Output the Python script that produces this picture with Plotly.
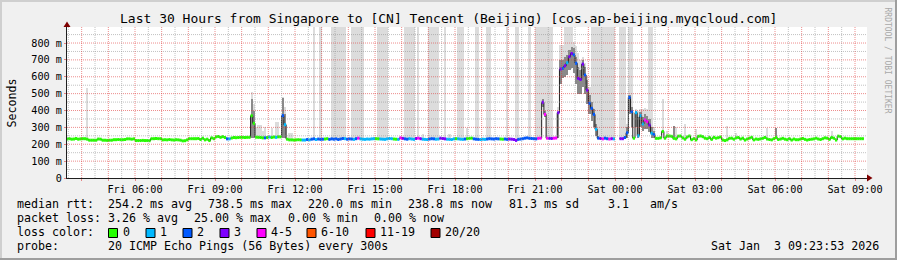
import plotly.graph_objects as go
from datetime import datetime, timedelta

# ---------------------------------------------------------------- data
START = datetime(2026, 1, 2, 3, 0)          # first 5-minute interval (partly clipped)
STEP = timedelta(minutes=5)
X_RANGE = ("2026-01-02 03:27", "2026-01-03 09:27")
Y_MAX = 895

# median RTT (ms) per 5-minute interval, one row per hour (Fri 03:00 ... Sat 09:15)
MEDIAN_MS = [
    230, 230, 230, 230, 230, 231, 233, 230, 231, 234, 230, 232,   # Fri 03
    233, 233, 230, 224, 224, 224, 224, 231, 230, 224, 224, 223,   # Fri 04
    224, 224, 227, 227, 228, 227, 227, 228, 232, 232, 230, 232,   # Fri 05
    222, 222, 222, 223, 222, 222, 221, 233, 233, 234, 233, 233,   # Fri 06
    226, 227, 226, 228, 226, 225, 227, 226, 224, 220, 221, 226,   # Fri 07
    233, 233, 233, 233, 234, 228, 236, 226, 230, 222, 238, 233,   # Fri 08
    244, 246, 241, 245, 240, 232, 232, 237, 240, 239, 240, 241,   # Fri 09
    241, 240, 241, 241, 369, 324, 242, 241, 240, 238, 238, 240,   # Fri 10
    243, 240, 243, 241, 244, 244, 370, 316, 230, 226, 226, 225,   # Fri 11
    226, 227, 226, 225, 225, 228, 226, 230, 232, 228, 231, 229,   # Fri 12
    230, 231, 233, 229, 232, 230, 232, 228, 231, 234, 233, 230,   # Fri 13
    232, 231, 229, 233, 236, 232, 230, 229, 231, 230, 232, 233,   # Fri 14
    233, 232, 231, 230, 229, 232, 234, 233, 231, 230, 229, 238,   # Fri 15
    235, 232, 230, 233, 231, 229, 234, 236, 233, 230, 229, 228,   # Fri 16
    231, 233, 232, 230, 231, 236, 234, 232, 230, 229, 228, 232,   # Fri 17
    233, 232, 230, 229, 231, 233, 235, 236, 232, 230, 229, 228,   # Fri 18
    230, 229, 231, 233, 232, 231, 233, 232, 231, 230, 231, 229,   # Fri 19
    231, 230, 228, 223, 229, 231, 233, 236, 238, 235, 234, 233,   # Fri 20
    232, 235, 236, 449, 377, 236, 235, 234, 236, 237, 387, 646,   # Fri 21
    650, 665, 683, 719, 738, 730, 680, 590, 584, 675, 610, 521,   # Fri 22
    443, 413, 377, 289, 236, 234, 232, 236, 233, 231, 233, 232,   # Fri 23
    None, None, 233, 233, 240, 268, 477, 393, 236, 387, 250, 369, # Sat 00
    320, 344, 334, 314, 265, 258, 235, 235, 238, 276, 236, 249,   # Sat 01
    249, 247, 235, 232, 248, 249, 238, 230, 243, 249, 227, 233,   # Sat 02
    226, 247, 249, 245, 236, 233, 240, 229, 241, 236, 239, 243,   # Sat 03
    225, 222, 226, 235, 236, 230, 238, 240, 231, 236, 225, 231,   # Sat 04
    236, 241, 226, 231, 229, 232, 235, 240, 231, 228, 226, 233,   # Sat 05
    240, 228, 231, 235, 230, 227, 233, 225, 231, 227, 227, 231,   # Sat 06
    234, 229, 225, 228, 230, 232, 236, 231, 228, 233, 238, 236,   # Sat 07
    229, 240, 236, 225, 248, 245, 232, 236, 233, 233, 233, 233,   # Sat 08
    233, 233, 233, 233,                                           # Sat 09
]

# lost pings (out of 20) per interval, same layout
LOSS = [
    0, 0, 0, 0, 0, 0, 0, 0, 0, 0, 0, 0,   # Fri 03
    0, 0, 0, 0, 0, 0, 0, 0, 0, 0, 0, 0,   # Fri 04
    0, 0, 0, 0, 0, 0, 0, 0, 0, 0, 0, 0,   # Fri 05
    0, 0, 0, 0, 0, 0, 0, 0, 0, 0, 0, 0,   # Fri 06
    0, 0, 0, 0, 0, 0, 0, 0, 0, 0, 0, 0,   # Fri 07
    0, 0, 0, 0, 0, 0, 0, 0, 0, 0, 0, 0,   # Fri 08
    0, 0, 0, 0, 0, 2, 1, 0, 0, 0, 0, 0,   # Fri 09
    0, 0, 0, 0, 0, 0, 0, 0, 0, 0, 2, 0,   # Fri 10
    1, 0, 0, 1, 0, 0, 2, 1, 0, 0, 0, 0,   # Fri 11
    0, 0, 0, 1, 1, 2, 1, 2, 2, 1, 2, 2,   # Fri 12
    2, 0, 0, 2, 2, 2, 2, 2, 2, 2, 1, 2,   # Fri 13
    2, 2, 1, 2, 4, 1, 1, 1, 1, 1, 1, 1,   # Fri 14
    0, 0, 1, 1, 1, 1, 1, 1, 0, 0, 1, 4,   # Fri 15
    3, 2, 2, 1, 1, 1, 3, 4, 3, 1, 1, 1,   # Fri 16
    2, 2, 2, 1, 1, 3, 3, 3, 1, 1, 1, 1,   # Fri 17
    0, 1, 1, 1, 2, 0, 0, 0, 2, 2, 2, 1,   # Fri 18
    1, 1, 2, 2, 2, 2, 2, 2, 0, 0, 2, 2,   # Fri 19
    3, 3, 3, 3, 2, 2, 2, 2, 2, 2, 2, 2,   # Fri 20
    2, 4, 4, 3, 4, 4, 3, 3, 4, 4, 3, 3,   # Fri 21
    2, 3, 1, 3, 3, 2, 2, 3, 3, 3, 2, 3,   # Fri 22
    2, 2, 2, 1, 2, 3, 4, 2, 2, 4, 3, 1,   # Fri 23
    None, None, 3, 3, 2, 2, 2, 2, 0, 1, 1, 1,   # Sat 00
    1, 4, 4, 3, 1, 2, 0, 0, 0, 0, 0, 0,   # Sat 01
    0, 0, 0, 0, 0, 0, 0, 0, 0, 0, 0, 0,   # Sat 02
    0, 0, 0, 0, 0, 0, 0, 0, 0, 0, 0, 0,   # Sat 03
    0, 0, 0, 0, 0, 0, 0, 0, 0, 0, 0, 0,   # Sat 04
    0, 0, 0, 0, 0, 0, 0, 0, 0, 0, 0, 0,   # Sat 05
    0, 0, 0, 0, 0, 0, 0, 0, 0, 0, 0, 0,   # Sat 06
    0, 0, 0, 0, 0, 0, 0, 0, 0, 0, 0, 0,   # Sat 07
    0, 0, 0, 0, 0, 0, 0, 0, 0, 0, 0, 0,   # Sat 08
    0, 0, 0, 0,                           # Sat 09
]

# smoke (ping spread) for selected intervals: index, dark-band low/high, light top (ms)
SMOKE_N = [14, 88, 89, 90, 91, 92, 93, 94, 97, 99, 100, 102, 103, 105, 106,
           116, 119, 124, 125, 126, 127, 128, 129, 130, 133, 134, 135, 136, 137, 138,
           145, 146, 147, 148, 149, 157, 158, 159, 160, 161, 163, 165,
           168, 169, 170, 171, 172, 175, 177, 181, 182, 183, 185, 189, 190, 194, 195,
           203, 207, 208, 213, 216, 217, 218, 219, 220, 221, 222, 223, 226,
           227, 228, 229, 230, 231, 232, 233, 234, 235, 236, 237, 238, 239, 240,
           241, 242, 243, 244, 245, 246, 247, 248, 249, 250, 251, 254, 255, 256,
           257, 258, 259, 261, 262, 263, 264, 265, 266, 267, 268, 269, 273, 275,
           278, 279, 283, 288, 302, 306, 320, 324, 349]
SMOKE_LO = [None, 240, 240, None, None, None, None, None, None, None, None, 235, 235, None, None,
            None, None, None, None, None, None, None, None, None, None, None, None, None, None, None,
            None, None, None, None, None, None, None, None, None, None, None, None,
            None, None, None, None, None, None, None, None, None, None, None, None, None, None, None,
            None, None, None, None, None, None, None, 420, 360, None, None, None, 240,
            560, 590, 600, 610, 640, 650, 620, 560, 500, 500, 540, 500, 440, 380,
            340, 300, 250, 232, None, None, None, None, None, None, None, None, None, None,
            240, 380, 300, 300, 240, 300, 280, 290, 290, 270, 240, 235, None, None,
            235, None, None, None, None, None, None, 232, None]
SMOKE_HI = [None, 470, 400, None, None, None, None, None, None, None, None, 474, 380, None, None,
            None, None, None, None, None, None, None, None, None, None, None, None, None, None, None,
            None, None, None, None, None, None, None, None, None, None, None, None,
            None, None, None, None, None, None, None, None, None, None, None, None, None, None, None,
            None, None, None, None, None, None, None, 470, 400, None, None, None, 390,
            700, 700, 715, 730, 760, 775, 770, 720, 660, 640, 700, 660, 580, 490,
            450, 410, 320, 250, None, None, None, None, None, None, None, None, None, None,
            300, 490, 420, 400, 360, 390, 360, 380, 370, 350, 300, 280, None, None,
            308, None, None, None, None, None, None, 296, None]
SMOKE_TOP = [535, 510, 440, 300, 314, 314, 280, 304, 296, 334, 334, 482, 420, 265, 265,
             900, 900, 900, 900, 900, 900, 900, 900, 900, 900, 900, 900, 900, 900, 900,
             900, 900, 900, 900, 900, 900, 900, 900, 900, 900, 900, 262,
             900, 900, 900, 900, 900, 900, 258, 900, 900, 900, 294, 900, 900, 900, 900,
             900, 900, 900, 900, 900, 900, 900, 900, 900, 900, 900, 900, 420,
             790, 790, 900, 900, 900, 900, 808, 780, 740, 700, 720, 680, 600, 540,
             900, 900, 900, 900, 900, 900, 900, 900, 900, 900, 900, 900, 900, 900,
             320, 900, 900, 410, 400, 410, 410, 415, 410, 900, 900, 300, 466, 280,
             308, 304, 320, 288, 308, 268, 298, 296, 280]

LOSS_BINS = [(0, 0), (1, 1), (2, 2), (3, 3), (4, 5), (6, 10), (11, 19), (20, 20)]
LOSS_LABELS = ["0", "1", "2", "3", "4-5", "6-10", "11-19", "20/20"]
LOSS_COLORS = ["#26ff00", "#00b8ff", "#0059ff", "#7e00ff", "#ff00ff", "#ff5500", "#ff0000", "#a10000"]

Y_TICKS = [0, 100, 200, 300, 400, 500, 600, 700, 800]
Y_TICKTEXT = ["0", "100 m", "200 m", "300 m", "400 m", "500 m", "600 m", "700 m", "800 m"]

TITLE = "Last 30 Hours from Singapore to [CN] Tencent (Beijing) [cos.ap-beijing.myqcloud.com]"
STAT_LINES = [
    [(16, "median rtt:"), (107, "254.2 ms avg"), (207, "738.5 ms max"), (307, "220.0 ms min"),
     (407, "238.8 ms now"), (507.5, "81.3 ms sd"), (607, "3.1   am/s")],
    [(16, "packet loss:"), (107, "3.26 % avg"), (193, "25.00 % max"), (286.5, "0.00 % min"),
     (372.5, "0.00 % now")],
    [(16, "loss color:")],
    [(16, "probe:"), (107, "20 ICMP Echo Pings (56 Bytes) every 300s")],
]
STAMP = "Sat Jan  3 09:23:53 2026"

# ---------------------------------------------------------------- style / geometry
W, H = 897, 260
PL, PR, PT, PB = 67, 867, 27, 178
MONO = "DejaVu Sans Mono"
MGRID = "rgba(222,48,48,0.55)"
GRID = "rgba(143,143,143,0.55)"
LIGHT = "#dcdcdc"
DARK = "#8a8a8a"


def px(x):
    return (x - PL) / (PR - PL)


def py(y):
    return (PB - y) / (PB - PT)


def nb(s):
    return s.replace(" ", "\u00a0")


times = [START + STEP * i for i in range(len(MEDIAN_MS))]
half = STEP / 2
fig = go.Figure()

# light smoke
lx, ly, lb = [], [], []
for k, n in enumerate(SMOKE_N):
    base = SMOKE_LO[k] if SMOKE_LO[k] is not None else MEDIAN_MS[n]
    lx.append(times[n] + half)
    lb.append(base)
    ly.append(SMOKE_TOP[k] - base)
fig.add_trace(go.Bar(x=lx, y=ly, base=lb, width=STEP.total_seconds() * 1000,
                     marker=dict(color=LIGHT, line=dict(width=0)), hoverinfo="skip"))
# dark smoke
dx, dy, db = [], [], []
for k, n in enumerate(SMOKE_N):
    if SMOKE_HI[k] is not None:
        dx.append(times[n] + half)
        db.append(SMOKE_LO[k])
        dy.append(SMOKE_HI[k] - SMOKE_LO[k])
fig.add_trace(go.Bar(x=dx, y=dy, base=db, width=STEP.total_seconds() * 1000,
                     marker=dict(color=DARK, line=dict(width=0)), hoverinfo="skip"))

# median step line
fig.add_trace(go.Scatter(x=times + [times[-1] + STEP], y=MEDIAN_MS + [MEDIAN_MS[-1]],
                         mode="lines", line=dict(color="#202020", width=1, shape="hv"),
                         connectgaps=False, hoverinfo="skip"))

# loss-coloured median segments
for b, (lo, hi) in enumerate(LOSS_BINS):
    sx, sy = [], []
    for n, v in enumerate(MEDIAN_MS):
        l = LOSS[n]
        if v is None or l is None or not (lo <= l <= hi):
            continue
        sx += [times[n], times[n] + STEP, None]
        sy += [v, v, None]
    if sx:
        fig.add_trace(go.Scatter(x=sx, y=sy, mode="lines",
                                 line=dict(color=LOSS_COLORS[b], width=3),
                                 hoverinfo="skip"))

shapes = []
# grid drawn above the data (rrdtool style)
for v in range(50, 900, 50):
    shapes.append(dict(type="line", xref="paper", yref="y", x0=0, x1=1, y0=v, y1=v,
                       line=dict(color=MGRID if v % 100 == 0 else GRID, width=1, dash="1px,1px"),
                       layer="above"))
t = datetime(2026, 1, 2, 3, 30)
while t <= datetime(2026, 1, 3, 9, 0):
    shapes.append(dict(type="line", xref="x", yref="paper", x0=t, x1=t, y0=0, y1=1,
                       line=dict(color=MGRID if t.minute == 0 else GRID, width=1, dash="1px,1px"),
                       layer="above"))
    t += timedelta(minutes=30)

# arrows
shapes.append(dict(type="path", xref="paper", yref="paper", layer="above",
                   path=f"M {px(867)} {py(174.5)} L {px(872.5)} {py(178)} L {px(867)} {py(181.5)} Z",
                   fillcolor="#7f0000", line=dict(width=0)))
shapes.append(dict(type="path", xref="paper", yref="paper", layer="above",
                   path=f"M {px(63.5)} {py(27)} L {px(67)} {py(21.5)} L {px(70.5)} {py(27)} Z",
                   fillcolor="#7f0000", line=dict(width=0)))
# frame shading
shapes.append(dict(type="rect", xref="paper", yref="paper", x0=px(0), x1=px(W), y0=py(0), y1=py(2),
                   fillcolor="#cfcfcf", line=dict(width=0), layer="below"))
shapes.append(dict(type="rect", xref="paper", yref="paper", x0=px(0), x1=px(2), y0=py(0), y1=py(H),
                   fillcolor="#cfcfcf", line=dict(width=0), layer="below"))
shapes.append(dict(type="rect", xref="paper", yref="paper", x0=px(0), x1=px(W), y0=py(H - 2), y1=py(H),
                   fillcolor="#9e9e9e", line=dict(width=0), layer="below"))
shapes.append(dict(type="rect", xref="paper", yref="paper", x0=px(W - 2), x1=px(W), y0=py(0), y1=py(H),
                   fillcolor="#9e9e9e", line=dict(width=0), layer="below"))

# legend colour boxes
BOX_X = [108.5, 146, 183, 220, 257, 307, 366, 431]
for b, bx in enumerate(BOX_X):
    shapes.append(dict(type="rect", xref="paper", yref="paper",
                       x0=px(bx), x1=px(bx + 9), y0=py(228.5), y1=py(237.5),
                       fillcolor=LOSS_COLORS[b], line=dict(color="#000000", width=1)))

ann = []
ann.append(dict(x=px(448.5), y=py(19), xref="paper", yref="paper", text=nb(TITLE), showarrow=False,
                xanchor="center", yanchor="middle", font=dict(family=MONO, size=13, color="#000")))
ann.append(dict(x=px(11), y=py(102.5), xref="paper", yref="paper", text="Seconds", showarrow=False,
                textangle=-90, xanchor="center", yanchor="middle",
                font=dict(family=MONO, size=11.65, color="#000")))
ann.append(dict(x=px(887.5), y=py(60), xref="paper", yref="paper", text=nb("RRDTOOL / TOBI OETIKER"),
                showarrow=False, textangle=90, xanchor="center", yanchor="middle",
                font=dict(family=MONO, size=8, color="#a8a8a8")))
for li, items in enumerate(STAT_LINES):
    yc = 204 + 14 * li
    for xl, s in items:
        ann.append(dict(x=px(xl), y=py(yc), xref="paper", yref="paper", text=nb(s), showarrow=False,
                        xanchor="left", yanchor="middle", borderpad=0,
                        font=dict(family=MONO, size=11.65, color="#000")))
for b, bx in enumerate(BOX_X):
    ann.append(dict(x=px(bx + 13), y=py(232), xref="paper", yref="paper", text=LOSS_LABELS[b],
                    showarrow=False, xanchor="left", yanchor="middle", borderpad=0,
                    font=dict(family=MONO, size=11.65, color="#000")))
ann.append(dict(x=px(880), y=py(246), xref="paper", yref="paper", text=nb(STAMP), showarrow=False,
                xanchor="right", yanchor="middle", borderpad=0,
                font=dict(family=MONO, size=11.65, color="#000")))

hours = []
t = datetime(2026, 1, 2, 4, 0)
while t <= datetime(2026, 1, 3, 9, 0):
    hours.append(t)
    t += timedelta(hours=1)
hour_text = [nb(h.strftime("%a %H:%M")) if h.hour % 3 == 0 else "" for h in hours]

fig.update_layout(
    width=W, height=H, margin=dict(l=PL, r=W - PR, t=PT, b=H - PB),
    paper_bgcolor="#f0f0f0", plot_bgcolor="#ffffff",
    showlegend=False, barmode="overlay", bargap=0,
    shapes=shapes, annotations=ann,
    xaxis=dict(type="date", range=list(X_RANGE), showgrid=False, zeroline=False,
               showline=True, linecolor="#1f1f1f", linewidth=1,
               tickmode="array", tickvals=hours, ticktext=hour_text,
               ticks="outside", ticklen=2, tickcolor=MGRID,
               tickfont=dict(family=MONO, size=10.2, color="#000")),
    yaxis=dict(range=[0, Y_MAX], showgrid=False, zeroline=False,
               showline=True, linecolor="#1f1f1f", linewidth=1,
               tickmode="array", tickvals=Y_TICKS, ticktext=[nb(s) for s in Y_TICKTEXT],
               ticks="outside", ticklen=2, tickcolor=MGRID,
               tickfont=dict(family=MONO, size=10.2, color="#000")),
)

fig.write_html("out.html")
